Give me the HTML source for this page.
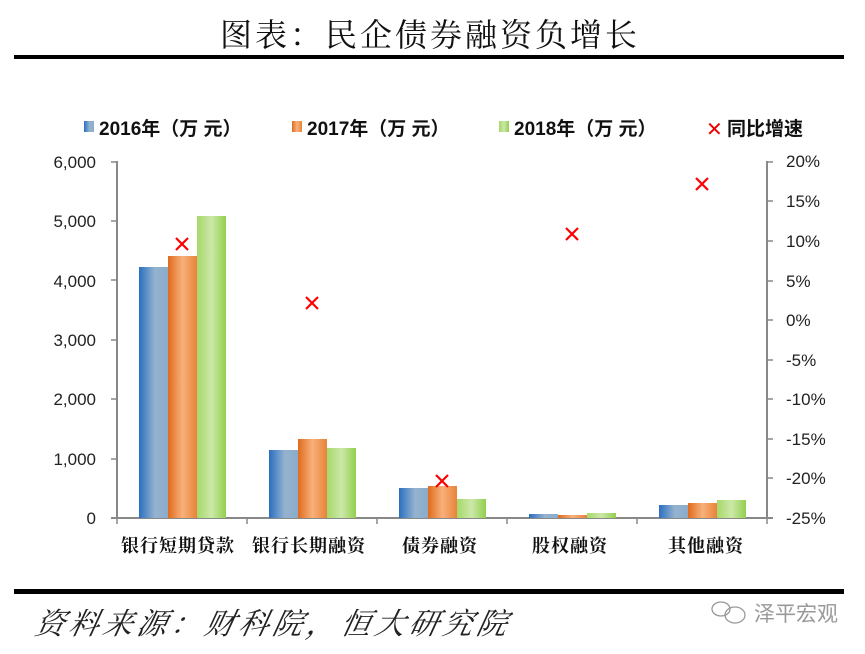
<!DOCTYPE html>
<html><head><meta charset="utf-8"><style>
body{margin:0;background:#fff;width:865px;height:649px;overflow:hidden;}
</style></head><body>
<svg width="865" height="649" xmlns="http://www.w3.org/2000/svg" font-family="Liberation Sans, Noto Sans CJK SC, sans-serif">
<defs>
<linearGradient id="gb" x1="0" x2="1"><stop offset="0" stop-color="#2a6fc0"/><stop offset="0.55" stop-color="#94b3cf"/><stop offset="1" stop-color="#8aaccb"/></linearGradient>
<linearGradient id="go" x1="0" x2="1"><stop offset="0" stop-color="#e06b1e"/><stop offset="0.5" stop-color="#f7b17a"/><stop offset="1" stop-color="#e8823a"/></linearGradient>
<linearGradient id="gg" x1="0" x2="1"><stop offset="0" stop-color="#a6d86a"/><stop offset="0.5" stop-color="#cce8a8"/><stop offset="1" stop-color="#92cf4e"/></linearGradient>
</defs>
<text x="430" y="46" text-anchor="middle" font-size="32" letter-spacing="3" font-family="Noto Serif CJK SC, serif" fill="#111">图表：民企债券融资负增长</text>
<rect x="14" y="55" width="830" height="4" fill="#000"/>
<g font-size="19" font-weight="bold" fill="#111">
<rect x="84" y="121" width="10" height="11" fill="url(#gb)"/><text x="99" y="135">2016年（万 元）</text>
<rect x="292" y="121" width="10" height="11" fill="url(#go)"/><text x="307" y="135">2017年（万 元）</text>
<rect x="499" y="121" width="10" height="11" fill="url(#gg)"/><text x="514" y="135">2018年（万 元）</text>
<text x="706" y="136" fill="#e00" font-weight="normal" font-size="20">✕</text><text x="727" y="135">同比增速</text>
</g>
<g stroke="#888" stroke-width="2" fill="none">
<line x1="117" y1="161" x2="117" y2="519"/>
<line x1="767" y1="161" x2="767" y2="519"/>
<line x1="111" y1="518" x2="773" y2="518"/>
</g>
<g stroke="#888" stroke-width="1.5">
<line x1="111" y1="162" x2="117" y2="162"/><line x1="111" y1="221" x2="117" y2="221"/><line x1="111" y1="280" x2="117" y2="280"/><line x1="111" y1="340" x2="117" y2="340"/><line x1="111" y1="399" x2="117" y2="399"/><line x1="111" y1="459" x2="117" y2="459"/>
<line x1="117" y1="518" x2="117" y2="524"/><line x1="247" y1="518" x2="247" y2="524"/><line x1="377" y1="518" x2="377" y2="524"/><line x1="507" y1="518" x2="507" y2="524"/><line x1="637" y1="518" x2="637" y2="524"/><line x1="767" y1="518" x2="767" y2="524"/>
<line x1="767" y1="162" x2="773" y2="162"/><line x1="767" y1="201" x2="773" y2="201"/><line x1="767" y1="241" x2="773" y2="241"/><line x1="767" y1="281" x2="773" y2="281"/><line x1="767" y1="320" x2="773" y2="320"/><line x1="767" y1="360" x2="773" y2="360"/><line x1="767" y1="399" x2="773" y2="399"/><line x1="767" y1="439" x2="773" y2="439"/><line x1="767" y1="478" x2="773" y2="478"/>
</g>
<g font-size="17" fill="#222" text-anchor="end">
<text x="96" y="168">6,000</text><text x="96" y="227">5,000</text><text x="96" y="287">4,000</text><text x="96" y="346">3,000</text><text x="96" y="405">2,000</text><text x="96" y="465">1,000</text><text x="96" y="524">0</text>
</g>
<g font-size="17" fill="#222">
<text x="786" y="167">20%</text><text x="786" y="207">15%</text><text x="786" y="247">10%</text><text x="786" y="287">5%</text><text x="786" y="326">0%</text><text x="786" y="366">-5%</text><text x="786" y="405">-10%</text><text x="786" y="445">-15%</text><text x="786" y="484">-20%</text><text x="786" y="524">-25%</text>
</g>
<g>
<rect x="139" y="267" width="29" height="251" fill="url(#gb)"/><rect x="168" y="256" width="29" height="262" fill="url(#go)"/><rect x="197" y="216" width="29" height="302" fill="url(#gg)"/>
<rect x="269" y="450" width="29" height="68" fill="url(#gb)"/><rect x="298" y="439" width="29" height="79" fill="url(#go)"/><rect x="327" y="448" width="29" height="70" fill="url(#gg)"/>
<rect x="399" y="488" width="29" height="30" fill="url(#gb)"/><rect x="428" y="486" width="29" height="32" fill="url(#go)"/><rect x="457" y="499" width="29" height="19" fill="url(#gg)"/>
<rect x="529" y="514" width="29" height="4" fill="url(#gb)"/><rect x="558" y="515" width="29" height="3" fill="url(#go)"/><rect x="587" y="513" width="29" height="5" fill="url(#gg)"/>
<rect x="659" y="505" width="29" height="13" fill="url(#gb)"/><rect x="688" y="503" width="29" height="15" fill="url(#go)"/><rect x="717" y="500" width="29" height="18" fill="url(#gg)"/>
</g>
<g stroke="#f00" stroke-width="2.2">
<path d="M176 238l12 12M188 238l-12 12"/>
<path d="M306 297l12 12M318 297l-12 12"/>
<path d="M436 475l12 12M448 475l-12 12"/>
<path d="M566 228l12 12M578 228l-12 12"/>
<path d="M696 178l12 12M708 178l-12 12"/>
</g>
<g font-size="18" font-weight="bold" fill="#111" text-anchor="middle" font-family="Noto Serif CJK SC, serif" letter-spacing="1">
<text x="178" y="552">银行短期贷款</text><text x="309" y="552">银行长期融资</text><text x="440" y="552">债券融资</text><text x="570" y="552">股权融资</text><text x="706" y="552">其他融资</text>
</g>
<rect x="14" y="589" width="830" height="5" fill="#000"/>
<text x="36" y="634" font-size="30" font-style="italic" letter-spacing="4" fill="#222" font-family="Noto Serif CJK SC, serif" transform="skewX(-12) translate(132,0)">资料来源：财科院，恒大研究院</text>
<g stroke="#999" fill="none" stroke-width="1.3"><ellipse cx="721" cy="609" rx="9" ry="7"/><ellipse cx="735" cy="615" rx="10" ry="8"/></g>
<text x="754" y="621" font-size="21" fill="#999">泽平宏观</text>
</svg>
</body></html>
